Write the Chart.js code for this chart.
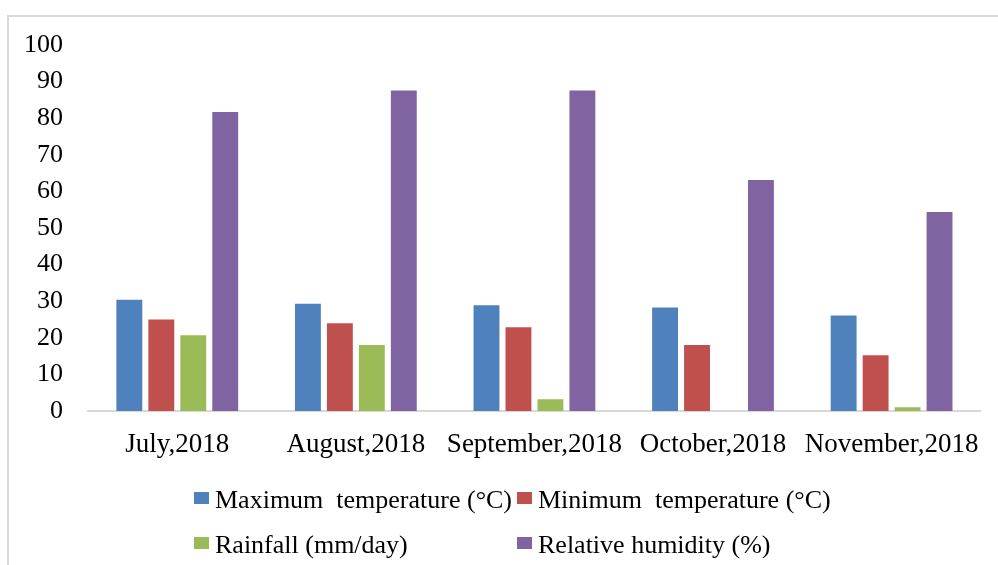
<!DOCTYPE html>
<html lang="en">
<head>
  <meta charset="UTF-8" />
  <title>Weather data, July-November 2018</title>
  <script src="https://cdn.jsdelivr.net/npm/chart.js"></script>
  <style>
    body {
      margin: 0;
      background: #fff;
      font-family: "Liberation Serif", "Times New Roman", serif;
    }
    #frame {
      position: absolute;
      left: 7px;
      top: 15px;
      width: 1000px;
      height: 560px;
      border-top: 2px solid #d9d9d9;
      border-left: 2px solid #d9d9d9;
    }
    #chart {
      position: absolute;
      left: 0;
      top: 0;
    }
    #legend {
      position: absolute;
      left: 194px;
      top: 477px;
      display: grid;
      grid-template-columns: 323px auto;
      grid-auto-rows: 45px;
      font-size: 26px;
      color: #000;
    }
    #legend .item {
      display: flex;
      align-items: center;
      white-space: pre;
    }
    #legend .box {
      width: 15px;
      height: 12px;
      margin-right: 6px;
      margin-top: -4px;
    }
  </style>
</head>
<body>
  <div id="frame"></div>
  <canvas id="chart" width="998" height="565"></canvas>
  <div id="legend"></div>

  <script>
    const months = ['July,2018', 'August,2018', 'September,2018', 'October,2018', 'November,2018'];
    const maxTemp = [30.4, 29.3, 28.9, 28.3, 26.1];
    const minTemp = [25.0, 24.0, 22.9, 18.0, 15.2];
    const rainfall = [20.7, 18.0, 3.2, 0, 1.0];
    const humidity = [81.7, 87.6, 87.6, 63.1, 54.4];
    const seriesNames = ['Maximum  temperature (°C)', 'Minimum  temperature (°C)', 'Rainfall (mm/day)', 'Relative humidity (%)'];
    const seriesColors = ['#4f81bd', '#c0504d', '#9bbb59', '#8064a2'];

    const serif = '"Liberation Serif", "Times New Roman", serif';
    const values = [maxTemp, minTemp, rainfall, humidity];

    const chart = new Chart(document.getElementById('chart'), {
      type: 'bar',
      data: {
        labels: months,
        datasets: values.map((v, i) => ({
          label: seriesNames[i],
          data: v,
          backgroundColor: seriesColors[i],
          categoryPercentage: 0.716,
          barPercentage: 0.81
        }))
      },
      options: {
        responsive: false,
        animation: false,
        layout: { padding: { top: 45, right: 16, bottom: 0, left: 0 } },
        plugins: {
          legend: { display: false },
          tooltip: { enabled: false }
        },
        scales: {
          x: {
            grid: { display: false, drawTicks: false },
            border: { display: true, color: '#d9d9d9', width: 2 },
            ticks: {
              color: '#000',
              font: { family: serif, size: 27 },
              padding: 18,
              maxRotation: 0,
              autoSkip: false
            },
            afterFit: s => { s.height = 154; }
          },
          y: {
            min: 0,
            max: 100,
            grid: { display: false, drawTicks: false },
            border: { display: false },
            ticks: {
              stepSize: 10,
              color: '#000',
              font: { family: serif, size: 26 },
              padding: 25
            },
            afterFit: s => { s.width = 88; }
          }
        }
      }
    });

    // legend in two rows, like the original
    const legend = document.getElementById('legend');
    seriesNames.forEach((name, i) => {
      const item = document.createElement('div');
      item.className = 'item';
      item.innerHTML = '<span class="box" style="background:' + seriesColors[i] + '"></span>' + name;
      legend.appendChild(item);
    });
  </script>
</body>
</html>
